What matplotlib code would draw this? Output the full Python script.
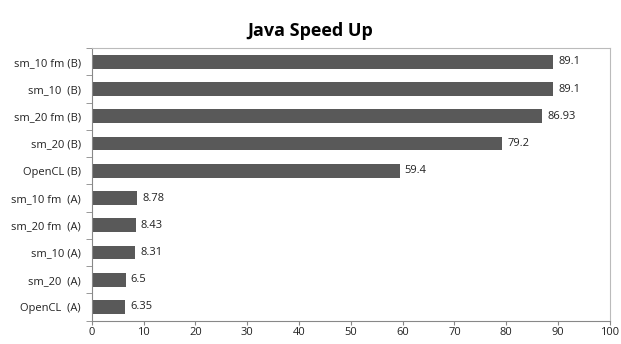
import numpy as np
import matplotlib.pyplot as plt

labels = ["OpenCL  (A)", "sm_20  (A)", "sm_10 (A)", "sm_20 fm  (A)", "sm_10 fm  (A)",
          "OpenCL (B)", "sm_20 (B)", "sm_20 fm (B)", "sm_10  (B)", "sm_10 fm (B)"]
speedup = [6.35, 6.5, 8.31, 8.43, 8.78, 59.4, 79.2, 86.93, 89.1, 89.1]
value_text = ["6.35", "6.5", "8.31", "8.43", "8.78", "59.4", "79.2", "86.93", "89.1", "89.1"]

plt.rcParams['font.family'] = ['Open Sans', 'DejaVu Sans']

fig = plt.figure(figsize=(6.21, 3.44), dpi=100)
ax = fig.add_axes([0.148, 0.068, 0.834, 0.792])

y = np.arange(len(labels))
ax.barh(y, speedup, height=0.5, color="#595959")
for yi, v, t in zip(y, speedup, value_text):
    ax.text(v + 1.0, yi, t, va="center", ha="left", fontsize=8, color="#222222")

ax.set_xlim(0, 100)
ax.set_ylim(-0.5, len(labels) - 0.5)
ax.set_xticks(np.arange(0, 101, 10))
ax.set_yticks(y)
ax.set_yticklabels(labels, fontsize=8, color="#222222")
ax.tick_params(axis="x", labelsize=8, colors="#222222", length=3, pad=1.5, color="#888888")
ax.set_yticks(np.arange(-0.5, len(labels), 1), minor=True)
ax.tick_params(axis="y", which="major", length=0, pad=8)
ax.tick_params(axis="y", which="minor", length=4, color="#888888")

for side in ["top", "right"]:
    ax.spines[side].set_color("#bbbbbb")
for side in ["left", "bottom"]:
    ax.spines[side].set_color("#888888")

fig.suptitle("Java Speed Up", fontsize=13, fontweight="bold", y=0.935)
fig.savefig("out.png", dpi=100)
